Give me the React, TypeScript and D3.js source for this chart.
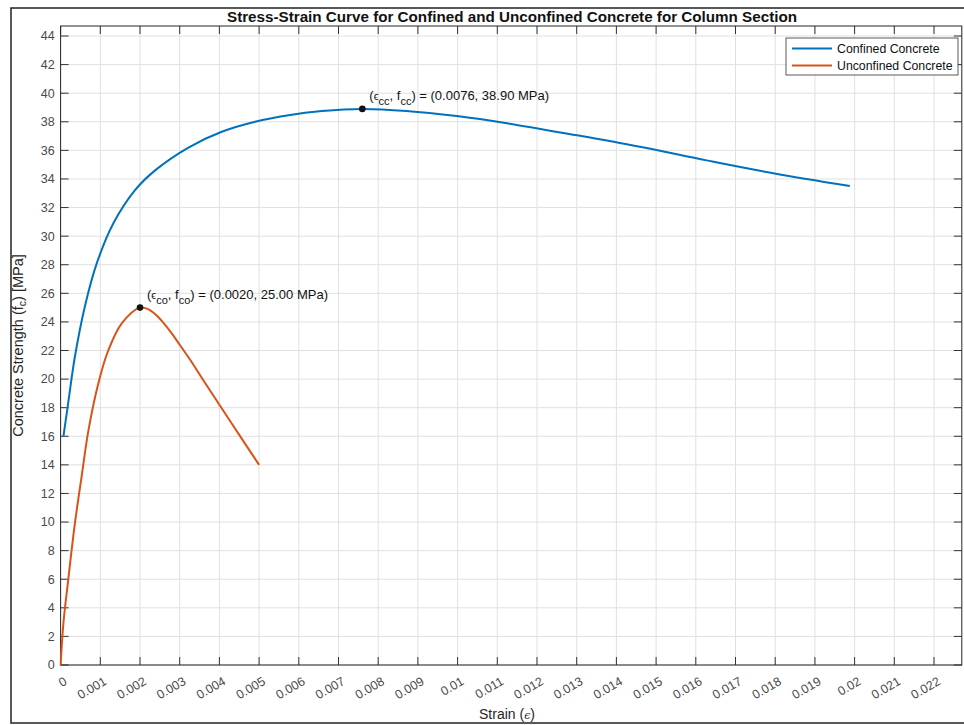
import React from "react";
import * as d3 from "d3";

const confinedStrain = [0.00007, 0.00019, 0.00036, 0.00061, 0.00091, 0.00133, 0.00187, 0.00238, 0.00322, 0.00406, 0.0049, 0.00574, 0.00658, 0.0076, 0.00871, 0.00998, 0.01124, 0.01291, 0.01459, 0.01627, 0.01795, 0.01988];
const confinedStress = [15.97, 18.3, 21.56, 25.06, 28.09, 30.9, 33.2, 34.6, 36.2, 37.3, 38.0, 38.46, 38.75, 38.9, 38.76, 38.4, 37.9, 37.1, 36.25, 35.3, 34.4, 33.5];
const unconfinedStrain = [0, 0.00007, 0.00019, 0.00036, 0.00053, 0.0007, 0.00095, 0.0012, 0.00154, 0.002, 0.0022, 0.0024, 0.0026, 0.0028, 0.003, 0.0033, 0.0036, 0.004, 0.0045, 0.005];
const unconfinedStress = [0, 2.9, 5.9, 9.9, 13.2, 16.4, 19.7, 22.0, 23.9, 25.0, 24.9, 24.5, 23.9, 23.2, 22.4, 21.2, 19.9, 18.2, 16.1, 14.0];
const peakStrain = [0.0076, 0.002];
const peakStress = [38.9, 25.0];
const peakSub = ["cc", "co"];
const xTicks = d3.range(0, 23).map((i) => i / 1000);
const yTicks = d3.range(0, 45, 2);
const seriesNames = ["Confined Concrete", "Unconfined Concrete"];
const seriesColors = ["#0072BD", "#D95319"];

const FONT = "'Liberation Sans', Arial, Helvetica, sans-serif";

export default function App() {
  const x = d3.scaleLinear().domain([0, 0.0227]).range([60.6, 961.8]);
  const y = d3.scaleLinear().domain([0, 44.7]).range([665, 26]);
  const line = d3
    .line<[number, number]>()
    .x((d) => x(d[0]))
    .y((d) => y(d[1]))
    .curve(d3.curveCatmullRom.alpha(0.5));
  const cPts = confinedStrain.map((s, i) => [s, confinedStress[i]] as [number, number]);
  const uPts = unconfinedStrain.map((s, i) => [s, unconfinedStress[i]] as [number, number]);
  const [x0, x1] = x.range();
  const [y0, y1] = y.range();
  const tickLen = 8;
  const fmt = (v: number) => String(+v.toFixed(3));

  return (
    <svg
      width={964}
      height={725}
      style={{ position: "absolute", left: 0, top: 0, background: "#fff", fontFamily: FONT }}
    >
      <rect x={0} y={0} width={964} height={725} fill="#fff" />
      {/* figure frame */}
      <rect x={11} y={8} width={1000} height={715} fill="none" stroke="#222" strokeWidth={1.5} />
      {/* grid */}
      {xTicks.map((t) => (
        <line key={"gx" + t} x1={x(t)} x2={x(t)} y1={y0} y2={y1} stroke="#e0e0e0" strokeWidth={1} />
      ))}
      {yTicks.map((t) => (
        <line key={"gy" + t} x1={x0} x2={x1} y1={y(t)} y2={y(t)} stroke="#e0e0e0" strokeWidth={1} />
      ))}
      {/* ticks */}
      {xTicks.map((t) => (
        <g key={"tx" + t}>
          <line x1={x(t)} x2={x(t)} y1={y0} y2={y0 - tickLen} stroke="#333" />
          <line x1={x(t)} x2={x(t)} y1={y1} y2={y1 + tickLen} stroke="#333" />
        </g>
      ))}
      {yTicks.map((t) => (
        <g key={"ty" + t}>
          <line x1={x0} x2={x0 + tickLen} y1={y(t)} y2={y(t)} stroke="#333" />
          <line x1={x1} x2={x1 - tickLen} y1={y(t)} y2={y(t)} stroke="#333" />
        </g>
      ))}
      {/* box */}
      <rect x={x0} y={y1} width={x1 - x0} height={y0 - y1} fill="none" stroke="#262626" strokeWidth={1} />
      {/* tick labels */}
      {xTicks.map((t) => (
        <text
          key={"lx" + t}
          transform={`translate(${x(t) + 5},${y0 + 15}) rotate(-30)`}
          textAnchor="end"
          dy="0.35em"
          fontSize={12.5}
          fill="#4a4a4a"
        >
          {fmt(t)}
        </text>
      ))}
      {yTicks.map((t) => (
        <text key={"ly" + t} x={x0 - 6} y={y(t)} dy="0.35em" textAnchor="end" fontSize={12.5} fill="#4a4a4a">
          {t}
        </text>
      ))}
      {/* curves */}
      <path d={line(cPts) || ""} fill="none" stroke={seriesColors[0]} strokeWidth={2} />
      <path d={line(uPts) || ""} fill="none" stroke={seriesColors[1]} strokeWidth={2} />
      {/* peaks */}
      {peakStrain.map((s, i) => (
        <g key={"pk" + i}>
          <circle cx={x(s)} cy={y(peakStress[i])} r={3.3} fill="#111" />
          <text x={x(s) + 7} y={y(peakStress[i]) - 9} fontSize={13} fill="#111">
            <tspan>(</tspan>
            <tspan fontSize={11}>ϵ</tspan>
            <tspan fontSize={11} dy={5}>{peakSub[i]}</tspan>
            <tspan dy={-5}>, f</tspan>
            <tspan fontSize={11} dy={5}>{peakSub[i]}</tspan>
            <tspan dy={-5}>
              {") = (" + peakStrain[i].toFixed(4) + ", " + peakStress[i].toFixed(2) + " MPa)"}
            </tspan>
          </text>
        </g>
      ))}
      {/* legend */}
      <rect x={786} y={38} width={172} height={37} fill="#fff" stroke="#333" strokeWidth={0.8} />
      {seriesNames.map((n, i) => (
        <g key={"lg" + i}>
          <line x1={792} x2={832} y1={48.5 + i * 17} y2={48.5 + i * 17} stroke={seriesColors[i]} strokeWidth={2} />
          <text x={837} y={48.5 + i * 17} dy="0.35em" fontSize={12.3} fill="#111">
            {n}
          </text>
        </g>
      ))}
      {/* title */}
      <text
        x={512}
        y={22}
        textAnchor="middle"
        fontSize={14}
        fontWeight="bold"
        fill="#111"
        textLength={570}
        lengthAdjust="spacingAndGlyphs"
      >
        Stress-Strain Curve for Confined and Unconfined Concrete for Column Section
      </text>
      {/* axis labels */}
      <text x={507} y={719} textAnchor="middle" fontSize={14} fill="#262626">
        Strain (<tspan fontStyle="italic" fontFamily="'DejaVu Serif', serif" fontSize={11}>ϵ</tspan>)
      </text>
      <text transform={`translate(23,${(y0 + y1) / 2}) rotate(-90)`} textAnchor="middle" fontSize={14.5} fill="#262626">
        Concrete Strength (f<tspan fontSize={10.5} dy={3}>c</tspan>
        <tspan dy={-3}>) [MPa]</tspan>
      </text>
    </svg>
  );
}
